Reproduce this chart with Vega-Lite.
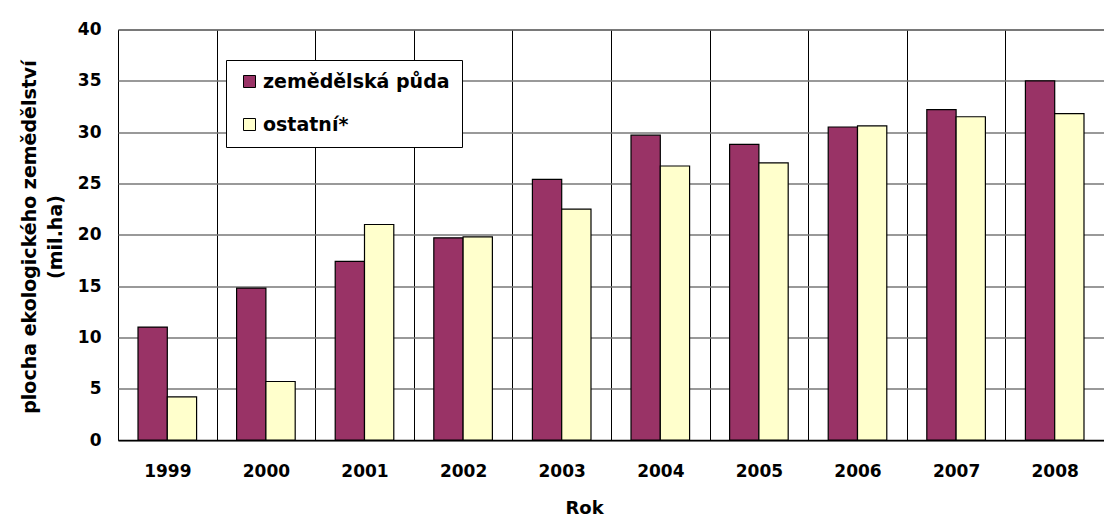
{
  "$schema": "https://vega.github.io/schema/vega-lite/v6.json",
  "width": 986,
  "height": 410.5,
  "autosize": {"type": "none"},
  "padding": {"left": 118, "top": 29.5, "right": 0, "bottom": 86},
  "background": "#ffffff",
  "config": {
    "view": {"stroke": "#000000", "strokeWidth": 1},
    "font": "DejaVu Sans"
  },
  "data": {
    "values": [
      {"rok": "1999", "druh": "zemědělská půda", "plocha": 11.0},
      {"rok": "1999", "druh": "ostatní*", "plocha": 4.2},
      {"rok": "2000", "druh": "zemědělská půda", "plocha": 14.8},
      {"rok": "2000", "druh": "ostatní*", "plocha": 5.7},
      {"rok": "2001", "druh": "zemědělská půda", "plocha": 17.4},
      {"rok": "2001", "druh": "ostatní*", "plocha": 21.0},
      {"rok": "2002", "druh": "zemědělská půda", "plocha": 19.7},
      {"rok": "2002", "druh": "ostatní*", "plocha": 19.8},
      {"rok": "2003", "druh": "zemědělská půda", "plocha": 25.4},
      {"rok": "2003", "druh": "ostatní*", "plocha": 22.5},
      {"rok": "2004", "druh": "zemědělská půda", "plocha": 29.7},
      {"rok": "2004", "druh": "ostatní*", "plocha": 26.7},
      {"rok": "2005", "druh": "zemědělská půda", "plocha": 28.8},
      {"rok": "2005", "druh": "ostatní*", "plocha": 27.0},
      {"rok": "2006", "druh": "zemědělská půda", "plocha": 30.5},
      {"rok": "2006", "druh": "ostatní*", "plocha": 30.6},
      {"rok": "2007", "druh": "zemědělská půda", "plocha": 32.2},
      {"rok": "2007", "druh": "ostatní*", "plocha": 31.5},
      {"rok": "2008", "druh": "zemědělská půda", "plocha": 35.0},
      {"rok": "2008", "druh": "ostatní*", "plocha": 31.8}
    ]
  },
  "mark": {"type": "bar", "stroke": "#000000", "strokeWidth": 1.2},
  "encoding": {
    "x": {
      "field": "rok",
      "type": "ordinal",
      "scale": {"paddingInner": 0, "paddingOuter": 0},
      "axis": {
        "title": "Rok",
        "labelAngle": 0,
        "ticks": false,
        "tickBand": "extent",
        "grid": true,
        "gridColor": "#000000",
        "gridWidth": 1,
        "domainColor": "#000000",
        "domainWidth": 1.5,
        "labelFont": "DejaVu Sans",
        "labelFontSize": 17,
        "labelFontWeight": "bold",
        "labelColor": "#000000",
        "labelPadding": 31,
        "labelBaseline": "middle",
        "titleFont": "DejaVu Sans",
        "titleFontSize": 18,
        "titleFontWeight": "bold",
        "titleColor": "#000000",
        "titleX": 466,
        "titleY": 68,
        "titleAlign": "center",
        "titleBaseline": "middle"
      }
    },
    "xOffset": {
      "field": "druh",
      "type": "nominal",
      "scale": {"domain": ["zemědělská půda", "ostatní*"], "paddingInner": 0, "paddingOuter": 0.683}
    },
    "y": {
      "field": "plocha",
      "type": "quantitative",
      "scale": {"domain": [0, 40], "nice": false},
      "axis": {
        "values": [0, 5, 10, 15, 20, 25, 30, 35, 40],
        "grid": true,
        "gridColor": "#777777",
        "gridWidth": 1.5,
        "ticks": false,
        "domain": false,
        "labelFont": "DejaVu Sans",
        "labelFontSize": 17,
        "labelFontWeight": "bold",
        "labelColor": "#000000",
        "labelPadding": 17,
        "labelBaseline": "middle",
        "title": ["plocha ekologického zemědělství", "(mil.ha)"],
        "titleFont": "DejaVu Sans",
        "titleFontSize": 19,
        "titleFontWeight": "bold",
        "titleColor": "#000000",
        "titleAngle": -90,
        "titleX": -89,
        "titleY": 207,
        "titleAlign": "center",
        "titleBaseline": "middle",
        "titleLineHeight": 26.5
      }
    },
    "color": {
      "field": "druh",
      "type": "nominal",
      "scale": {"domain": ["zemědělská půda", "ostatní*"], "range": ["#993366", "#FFFFCC"]},
      "legend": {
        "orient": "none",
        "legendX": 108,
        "legendY": 30.5,
        "title": null,
        "fillColor": "#ffffff",
        "strokeColor": "#000000",
        "padding": 12,
        "symbolType": "square",
        "symbolSize": 144,
        "symbolStrokeColor": "#000000",
        "symbolStrokeWidth": 1,
        "symbolOffset": 2,
        "labelFont": "DejaVu Sans",
        "labelFontSize": 19,
        "labelFontWeight": "bold",
        "labelColor": "#000000",
        "labelOffset": 4,
        "labelLimit": 300,
        "rowPadding": 23
      }
    }
  }
}
